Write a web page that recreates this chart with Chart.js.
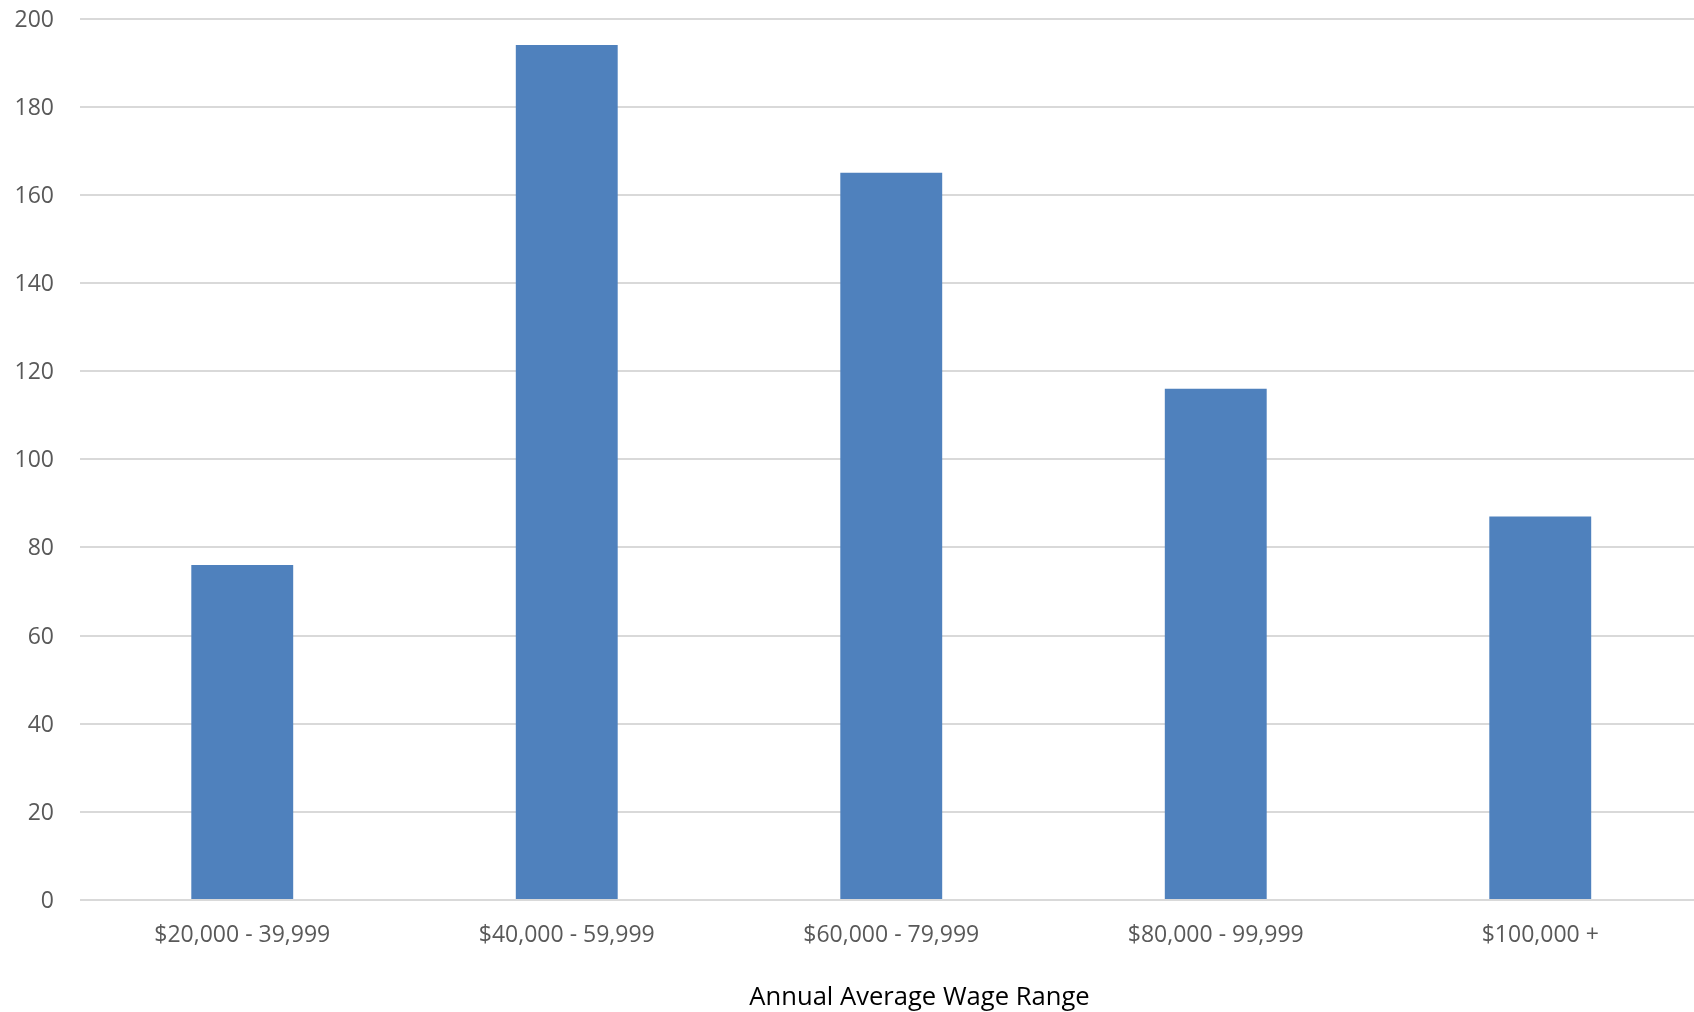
<!DOCTYPE html>
<html>
<head>
<meta charset="utf-8">
<title>Annual Average Wage Range</title>
<script src="https://cdn.jsdelivr.net/npm/chart.js@4/dist/chart.umd.min.js"></script>
<style>
  html, body { margin: 0; padding: 0; background: #ffffff; overflow: hidden; }
  #wrap { position: absolute; left: 0; top: 0; width: 1839px; height: 1012px; }
</style>
</head>
<body>
<div id="wrap"><canvas id="chart" width="1839" height="1012"></canvas></div>
<script>
// Wage bands and the count in each band
const categories = ['$20,000 - 39,999', '$40,000 - 59,999', '$60,000 - 79,999', '$80,000 - 99,999', '$100,000 +'];
const counts = [76, 194, 165, 116, 87];
const yTicks = [0, 20, 40, 60, 80, 100, 120, 140, 160, 180, 200];
const axisTitle = 'Annual Average Wage Range';

const FONT = '"Open Sans", "DejaVu Sans", sans-serif';

// Axis title drawn beneath the category labels, centred on the full chart frame
const bottomTitle = {
  id: 'bottomTitle',
  afterDraw(chart, args, opts) {
    const ctx = chart.ctx;
    ctx.save();
    ctx.font = opts.size + 'px ' + FONT;
    ctx.fillStyle = opts.color;
    ctx.textAlign = 'center';
    ctx.textBaseline = 'middle';
    ctx.fillText(opts.text, opts.centerX, opts.centerY);
    ctx.restore();
  }
};

new Chart(document.getElementById('chart'), {
  type: 'bar',
  data: {
    labels: categories,
    datasets: [{
      data: counts,
      backgroundColor: '#4F81BD',
      borderWidth: 0,
      categoryPercentage: 1.0,
      barPercentage: 0.314
    }]
  },
  plugins: [bottomTitle],
  options: {
    responsive: false,
    devicePixelRatio: 1,
    animation: false,
    layout: { padding: { left: 0, top: 18.5, right: 136.5, bottom: 31.7 } },
    plugins: {
      legend: { display: false },
      tooltip: { enabled: false },
      title: { display: false },
      bottomTitle: {
        text: axisTitle,
        color: '#000000',
        size: 25.6,
        centerX: 919.5,
        centerY: 998
      }
    },
    scales: {
      x: {
        grid: { display: false, drawTicks: false },
        border: { display: false },
        ticks: {
          color: '#595959',
          font: { family: FONT, size: 23 },
          padding: 22,
          maxRotation: 0,
          autoSkip: false
        },
        afterFit: (scale) => { scale.height = 80.3; scale.paddingLeft = 0; scale.paddingRight = 0; }
      },
      y: {
        min: 0,
        max: 200,
        afterBuildTicks: (scale) => { scale.ticks = yTicks.map(v => ({ value: v })); },
        grid: { color: '#d9d9d9', lineWidth: 2, drawTicks: false },
        border: { display: false },
        ticks: {
          color: '#595959',
          font: { family: FONT, size: 23 },
          padding: 26,
          labelOffset: 1.5
        },
        afterFit: (scale) => { scale.width = 80; scale.paddingTop = 0; scale.paddingBottom = 0; }
      }
    }
  }
});
</script>
</body>
</html>
